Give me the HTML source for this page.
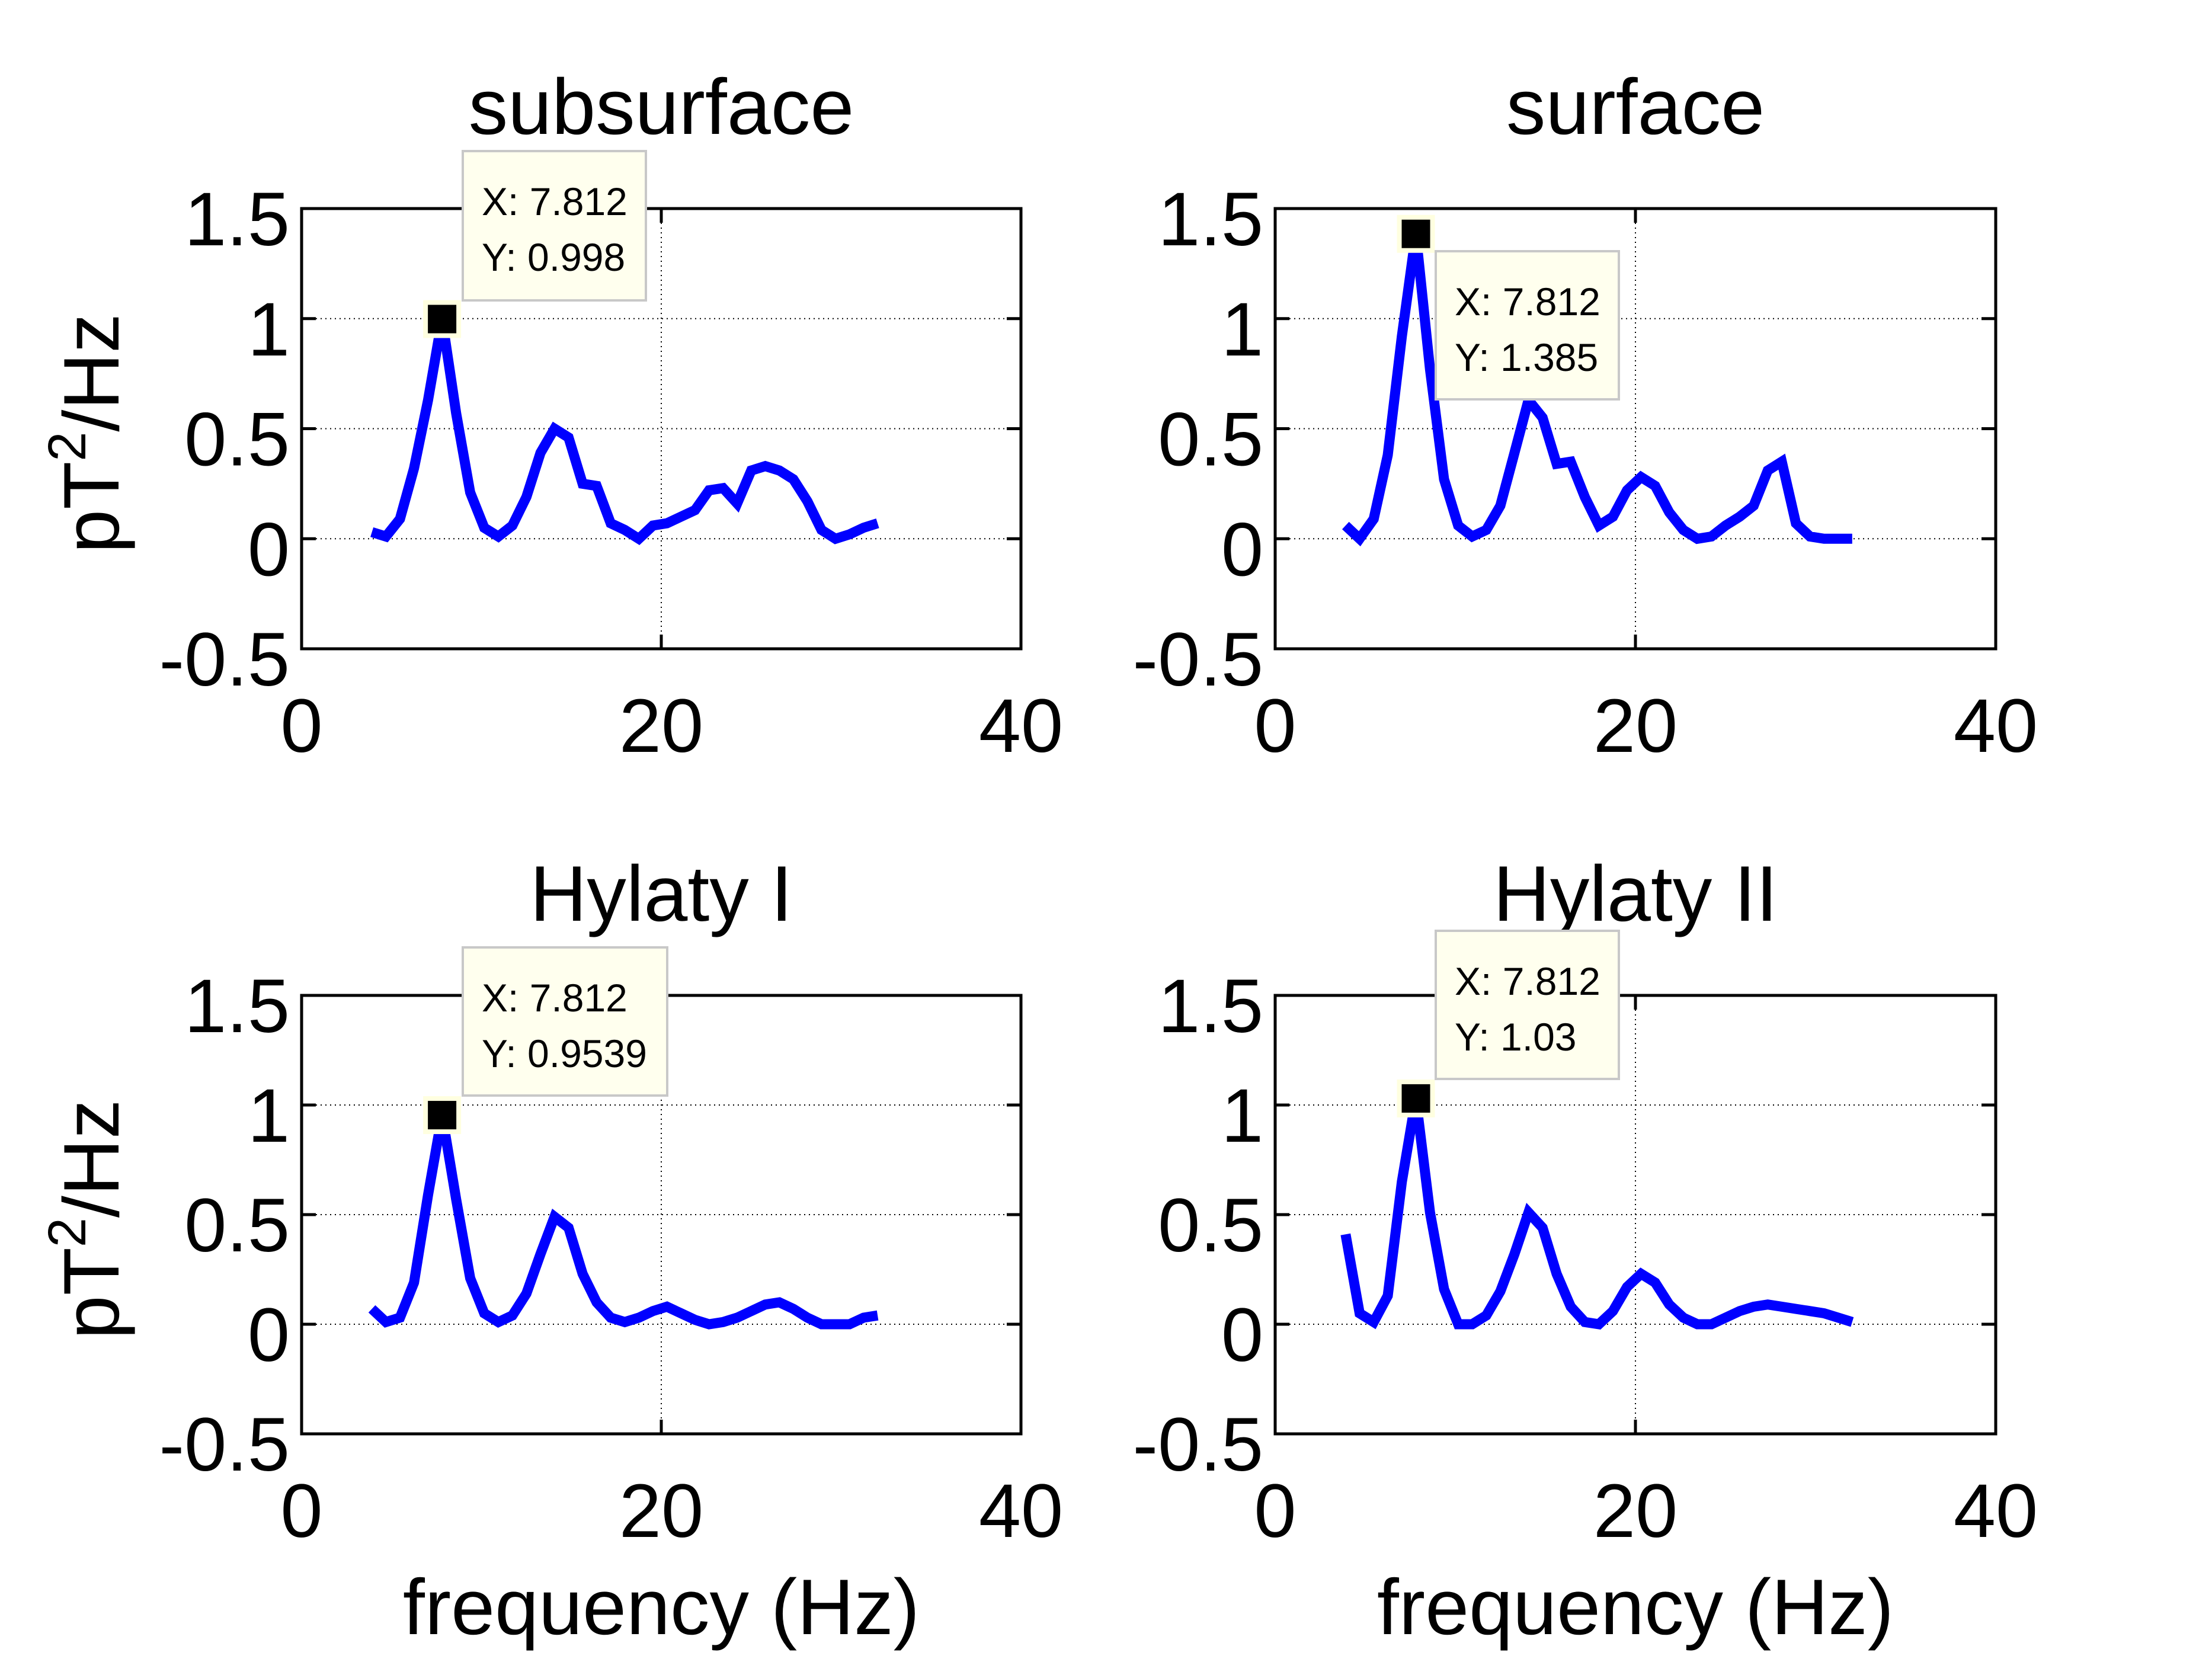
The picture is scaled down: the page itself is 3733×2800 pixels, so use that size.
<!DOCTYPE html>
<html><head><meta charset="utf-8">
<style>
html,body{margin:0;padding:0;background:#fff;}
svg{display:block;font-family:"Liberation Sans",Arial,sans-serif;}
</style></head>
<body>
<svg id="fig" width="3733" height="2800" viewBox="0 0 3733 2800" xmlns="http://www.w3.org/2000/svg">
<rect x="0" y="0" width="3733" height="2800" fill="#fff"/>
</svg>
<script>
// ---- data ----
const freqBins = [5,6,7,8,9,10,11,12,13,14,15,16,17,18,19,20,21,22,23,24,25,26,27,28,29,30,31,32,33,34,35,36,37,38,39,40,41];
const binWidthHz = 0.78125;
const subsurfaceValues = [0.03,0.01,0.09,0.32,0.63,0.998,0.57,0.21,0.05,0.01,0.06,0.19,0.39,0.5,0.46,0.25,0.24,0.07,0.04,0.0,0.06,0.07,0.1,0.13,0.22,0.23,0.16,0.31,0.33,0.31,0.27,0.17,0.04,0.0,0.02,0.05,0.07];
const surfaceValues = [0.06,0.0,0.09,0.38,0.92,1.385,0.77,0.27,0.06,0.01,0.04,0.15,0.39,0.63,0.55,0.34,0.35,0.19,0.06,0.1,0.22,0.28,0.24,0.12,0.04,0.0,0.01,0.06,0.1,0.15,0.31,0.35,0.07,0.01,0.0,0.0,0.0];
const hylaty1Values = [0.07,0.01,0.03,0.19,0.59,0.9539,0.57,0.21,0.05,0.01,0.04,0.14,0.32,0.49,0.44,0.23,0.1,0.03,0.01,0.03,0.06,0.08,0.05,0.02,0.0,0.01,0.03,0.06,0.09,0.1,0.07,0.03,0.0,0.0,0.0,0.03,0.04];
const hylaty2Values = [0.41,0.05,0.01,0.13,0.65,1.03,0.51,0.16,0.0,0.0,0.04,0.15,0.32,0.51,0.44,0.23,0.08,0.01,0.0,0.06,0.17,0.23,0.19,0.09,0.03,0.0,0.0,0.03,0.06,0.08,0.09,0.08,0.07,0.06,0.05,0.03,0.01];
const panelTitles = ["subsurface","surface","Hylaty I","Hylaty II"];
const xTicks = [0,20,40];
const xTickLabels = ["0","20","40"];
const yTicks = [-0.5,0,0.5,1,1.5];
const yTickLabels = ["-0.5","0","0.5","1","1.5"];
const tipX = ["7.812","7.812","7.812","7.812"];
const tipY = ["0.998","1.385","0.9539","1.03"];
const peakIndex = [5,5,5,5];

const NS = "http://www.w3.org/2000/svg";
const svg = document.getElementById('fig');
function mk(tag, attrs, parent){ const e=document.createElementNS(NS,tag); for(const k in attrs) e.setAttribute(k,attrs[k]); (parent||svg).appendChild(e); return e; }

const panels = [
 {L:509,R:1723,T:352,B:1095, vals:subsurfaceValues, tip:[781,255,309,252], ylab:true, xlab:false},
 {L:2152,R:3368,T:352,B:1095, vals:surfaceValues, tip:[2423,424,309,250], ylab:false, xlab:false},
 {L:509,R:1723,T:1680,B:2420, vals:hylaty1Values, tip:[781,1599,345,250], ylab:true, xlab:true},
 {L:2152,R:3368,T:1680,B:2420, vals:hylaty2Values, tip:[2423,1571,309,250], ylab:false, xlab:true}
];

panels.forEach((p,pi)=>{
  const g = mk('g',{});
  
  
  const sx = v => p.L + (v-0)/(40-0)*(p.R-p.L);
  const sy = v => p.B - (v+0.5)/(1.5+0.5)*(p.B-p.T);
  yTicks.forEach(t=>{ if(t>-0.5 && t<1.5){ const l=mk('line',{x1:p.L,x2:p.R,y1:sy(t),y2:sy(t),stroke:'#000','stroke-width':2,'stroke-dasharray':'2 6'},g);   }});
  xTicks.forEach(t=>{ if(t>0 && t<40){ const l=mk('line',{x1:sx(t),x2:sx(t),y1:p.T,y2:p.B,stroke:'#000','stroke-width':2,'stroke-dasharray':'2 6'},g);   }});
  yTicks.forEach(t=>{ mk('line',{x1:p.L,x2:p.L+24,y1:sy(t),y2:sy(t),stroke:'#000','stroke-width':5},g); mk('line',{x1:p.R,x2:p.R-24,y1:sy(t),y2:sy(t),stroke:'#000','stroke-width':5},g); });
  xTicks.forEach(t=>{ mk('line',{x1:sx(t),x2:sx(t),y1:p.B,y2:p.B-24,stroke:'#000','stroke-width':5},g); mk('line',{x1:sx(t),x2:sx(t),y1:p.T,y2:p.T+24,stroke:'#000','stroke-width':5},g); });
  const box = mk('rect',{x:p.L,y:p.T,width:p.R-p.L,height:p.B-p.T,fill:'none',stroke:'#000','stroke-width':5},g);
  
  
  yTicks.forEach((t,i)=>{ const tx=mk('text',{x:p.L-20,y:sy(t)+62,'text-anchor':'end','font-size':128,fill:'#000'},g); tx.textContent=yTickLabels[i];
    
     });
  xTicks.forEach((t,i)=>{ const tx=mk('text',{x:sx(t),y:p.B+174,'text-anchor':'middle','font-size':128,fill:'#000'},g); tx.textContent=xTickLabels[i];
    
     });
  const ti = mk('text',{x:(p.L+p.R)/2,y:p.T-126,'text-anchor':'middle','font-size':133,fill:'#000'},g);
  ti.textContent = panelTitles[pi];
  
  
  const pts = freqBins.map((k,i)=> sx(k*binWidthHz).toFixed(1)+','+sy(p.vals[i]).toFixed(1)).join(' ');
  const line = mk('polyline',{points:pts,fill:'none',stroke:'#0000ff','stroke-width':17,'stroke-linejoin':'miter'},g);
  
  
  const mi = peakIndex[pi];
  const mx = sx(freqBins[mi]*binWidthHz), my = sy(p.vals[mi]);
  const mbg = mk('rect',{x:mx-32,y:my-32,width:64,height:64,fill:'#ffffe0'},g);
  
  
  const m = mk('rect',{x:mx-24,y:my-24,width:48,height:48,fill:'#000'},g);
  
  
  const [bx,by,bw,bh] = p.tip;
  const tb = mk('rect',{x:bx,y:by,width:bw,height:bh,fill:'#ffffee',stroke:'#c8c8c8','stroke-width':4},g);
  
  
  const t1 = mk('text',{x:bx+32,y:by+108,'font-size':66,fill:'#000'},g);
  t1.textContent = 'X: '+tipX[pi];
  
  
  const t2 = mk('text',{x:bx+32,y:by+202,'font-size':66,fill:'#000'},g);
  t2.textContent = 'Y: '+tipY[pi];
  
  
  if(p.ylab){
    const cy=(p.T+p.B)/2+8, cx=200;
    const yl = mk('text',{x:cx,y:cy,'text-anchor':'middle','font-size':133,fill:'#000',transform:'rotate(-90 '+cx+' '+cy+')'},g);
    
    
    yl.appendChild(document.createTextNode('pT'));
    const sup = mk('tspan',{'font-size':90,dy:-56},yl); sup.textContent='2';
    const rest = mk('tspan',{dy:56},yl); rest.textContent='/Hz';
  }
  if(p.xlab){
    const xl = mk('text',{x:(p.L+p.R)/2,y:2758,'text-anchor':'middle','font-size':133,fill:'#000'},g);
    xl.textContent='frequency (Hz)';
    
    
  }
});
</script>
</body></html>
